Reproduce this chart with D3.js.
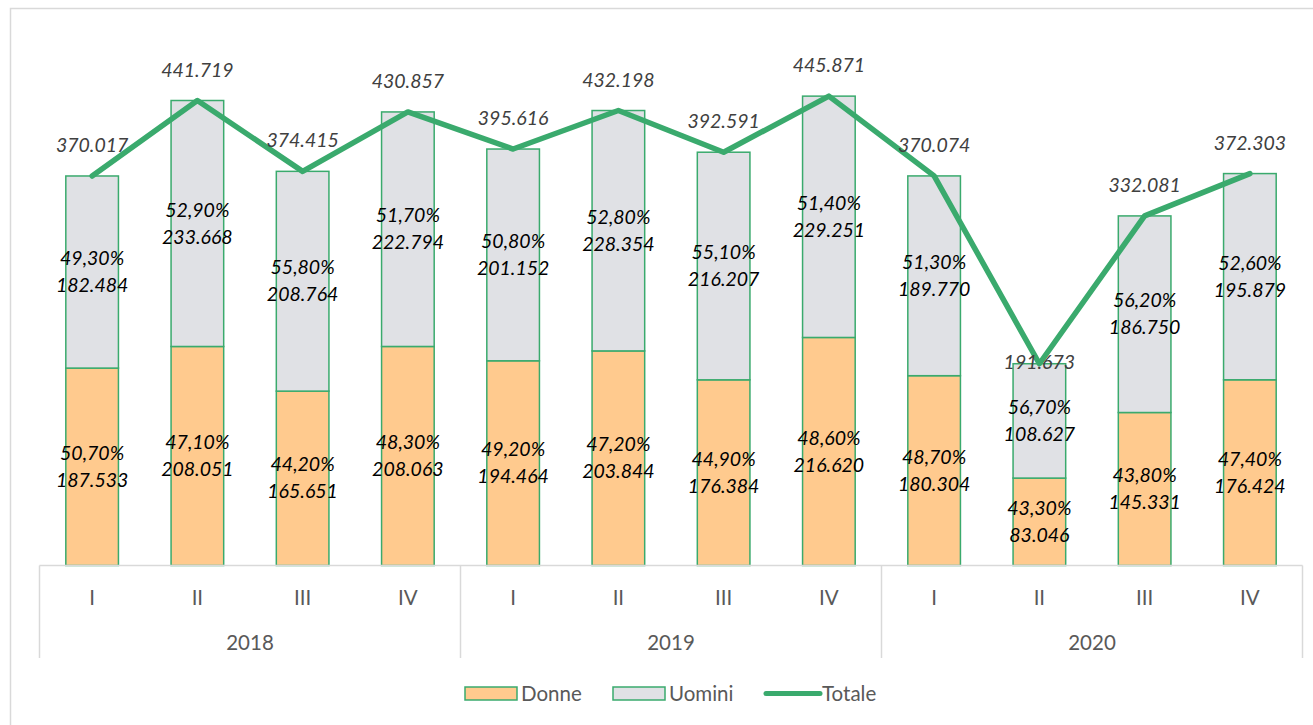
<!DOCTYPE html>
<html lang="it">
<head>
  <meta charset="utf-8">
  <title>Donne / Uomini / Totale</title>
  <script src="https://d3js.org/d3.v7.min.js"></script>
  <style>
    body { margin: 0; background: #fff; }
    text { font-family: Lato, "Open Sans", sans-serif; }
  </style>
</head>
<body>
<div id="chart"></div>
<script>
  // quarters and years
  var quarters = ["I", "II", "III", "IV", "I", "II", "III", "IV", "I", "II", "III", "IV"];
  var years = ["2018", "2019", "2020"];

  var donne = [187533, 208051, 165651, 208063, 194464, 203844, 176384, 216620, 180304, 83046, 145331, 176424];
  var uomini = [182484, 233668, 208764, 222794, 201152, 228354, 216207, 229251, 189770, 108627, 186750, 195879];
  var totale = [370017, 441719, 374415, 430857, 395616, 432198, 392591, 445871, 370074, 191673, 332081, 372303];
  var pctDonne = ["50,70%", "47,10%", "44,20%", "48,30%", "49,20%", "47,20%", "44,90%", "48,60%", "48,70%", "43,30%", "43,80%", "47,40%"];
  var pctUomini = ["49,30%", "52,90%", "55,80%", "51,70%", "50,80%", "52,80%", "55,10%", "51,40%", "51,30%", "56,70%", "56,20%", "52,60%"];

  var W = 1313, H = 725;
  var green = "#3aaa6d", orange = "#ffca8e", grey = "#e0e1e5";
  var x0 = 39.5, x1 = 1302.5, base = 565.5;
  var fs = 19.5;

  var fmt = d3.formatLocale({ decimal: ",", thousands: ".", grouping: [3], currency: ["", "€"] }).format(",d");

  var svg = d3.select("#chart").append("svg")
    .attr("width", W)
    .attr("height", H);

  // outer chart frame (right/bottom edges fall outside the picture)
  svg.append("rect")
    .attr("x", 10.5).attr("y", 8.5)
    .attr("width", W + 20).attr("height", H + 20)
    .attr("fill", "none").attr("stroke", "#d9d9d9").attr("stroke-width", 1.5);

  var x = d3.scaleBand()
    .domain(d3.range(quarters.length))
    .range([x0, x1])
    .paddingInner(0.5).paddingOuter(0.25);

  var y = d3.scaleLinear()
    .domain([0, 500000])
    .range([base, base - 500000 * 465 / 441719]);

  var g = svg.append("g");

  // stacked bars
  var stack = quarters.map(function (q, i) { return { i: i, donne: donne[i], uomini: uomini[i] }; });
  var series = d3.stack().keys(["donne", "uomini"])(stack);
  var fills = { donne: orange, uomini: grey };

  g.selectAll("g.series")
    .data(series)
    .join("g")
    .attr("class", "series")
    .attr("fill", function (d) { return fills[d.key]; })
    .selectAll("rect")
    .data(function (d) { return d; })
    .join("rect")
    .attr("x", function (d) { return x(d.data.i); })
    .attr("width", x.bandwidth())
    .attr("y", function (d) { return y(d[1]); })
    .attr("height", function (d) { return y(d[0]) - y(d[1]); })
    .attr("stroke", green)
    .attr("stroke-width", 1.5);

  // labels inside segments
  var pcts = { donne: pctDonne, uomini: pctUomini };
  series.forEach(function (s) {
    s.forEach(function (d) {
      var cx = x(d.data.i) + x.bandwidth() / 2;
      var cy = (y(d[0]) + y(d[1])) / 2;
      var t = g.append("text")
        .attr("x", cx).attr("y", cy)
        .attr("text-anchor", "middle")
        .attr("font-size", fs)
        .attr("font-style", "italic")
        .attr("fill", "#000");
      t.append("tspan").attr("x", cx).attr("dy", "-0.35em").text(pcts[s.key][d.data.i]);
      t.append("tspan").attr("x", cx).attr("dy", "1.38em").text(fmt(d.data[s.key]));
    });
  });

  // totale line
  var line = d3.line()
    .x(function (d, i) { return x(i) + x.bandwidth() / 2; })
    .y(function (d) { return y(d); });

  g.append("path")
    .datum(totale)
    .attr("d", line)
    .attr("fill", "none")
    .attr("stroke", green)
    .attr("stroke-width", 5.5)
    .attr("stroke-linejoin", "round")
    .attr("stroke-linecap", "round");

  // totale labels (the 2020 II one sits on the point)
  var labelShift = { 9: 5 };
  g.selectAll("text.tot")
    .data(totale)
    .join("text")
    .attr("class", "tot")
    .attr("x", function (d, i) { return x(i) + x.bandwidth() / 2; })
    .attr("y", function (d, i) { return y(d) - (labelShift[i] !== undefined ? -labelShift[i] : 24); })
    .attr("text-anchor", "middle")
    .attr("font-size", fs)
    .attr("font-style", "italic")
    .attr("fill", "#404040")
    .text(function (d) { return fmt(d); });

  // category axis
  var axis = svg.append("g").attr("stroke", "#d9d9d9").attr("stroke-width", 1.5);
  axis.append("line").attr("x1", x0).attr("x2", x1).attr("y1", base).attr("y2", base);
  var step = x.step();
  years.forEach(function (yr, k) {
    axis.append("line")
      .attr("x1", x0 + k * 4 * step).attr("x2", x0 + k * 4 * step)
      .attr("y1", base).attr("y2", 658);
  });
  axis.append("line").attr("x1", x1).attr("x2", x1).attr("y1", base).attr("y2", 658);

  svg.selectAll("text.q")
    .data(quarters)
    .join("text")
    .attr("class", "q")
    .attr("x", function (d, i) { return x(i) + x.bandwidth() / 2; })
    .attr("y", 605)
    .attr("text-anchor", "middle")
    .attr("font-size", 20.5)
    .attr("fill", "#595959")
    .text(function (d) { return d; });

  svg.selectAll("text.yr")
    .data(years)
    .join("text")
    .attr("class", "yr")
    .attr("x", function (d, k) { return x0 + (k * 4 + 2) * step; })
    .attr("y", 650)
    .attr("text-anchor", "middle")
    .attr("font-size", 20.5)
    .attr("fill", "#595959")
    .text(function (d) { return d; });

  // legend
  var legend = svg.append("g").attr("font-size", 20.5).attr("fill", "#595959");
  var items = [
    { name: "Donne", x: 465, fill: orange },
    { name: "Uomini", x: 613, fill: grey },
    { name: "Totale", x: 766, fill: null }
  ];
  items.forEach(function (it) {
    if (it.fill) {
      legend.append("rect")
        .attr("x", it.x).attr("y", 687)
        .attr("width", 52).attr("height", 13)
        .attr("fill", it.fill).attr("stroke", green).attr("stroke-width", 1.5);
    } else {
      legend.append("line")
        .attr("x1", it.x).attr("x2", it.x + 54)
        .attr("y1", 693.5).attr("y2", 693.5)
        .attr("stroke", green).attr("stroke-width", 5).attr("stroke-linecap", "round");
    }
    legend.append("text")
      .attr("x", it.x + 56).attr("y", 701)
      .text(it.name);
  });
</script>
</body>
</html>
